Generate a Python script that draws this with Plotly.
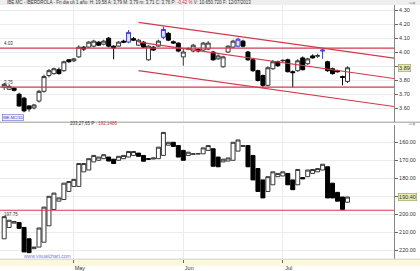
import plotly.graph_objects as go

# ---------------- data ----------------
sessions = list(range(70))

top_open = [3.75, 3.735, 3.742, 3.699, 3.671, 3.615, 3.601, 3.65, 3.72, 3.833,
            3.847, 3.875, 3.868, 3.946, 3.939, 3.967, 4.037, 4.037, 4.044, 4.073,
            4.058, 4.101, 4.044, 4.044, 4.08, 4.073, 4.098, 4.051, 4.073, 3.946,
            4.037, 4.044, 4.108, 4.136, 4.076, 4.066, 3.967, 4.023, 4.009, 4.02,
            4.016, 4.023, 4.002, 3.953, 3.896, 4.002, 4.037, 4.044, 4.08, 4.002,
            3.946, 3.868, 3.833, 3.763, 3.882, 3.932, 3.939, 3.946, 3.861, 3.868,
            3.96, 3.918, 3.974, 3.972, 4.009, 3.932, 3.882, 3.868, 3.826, 3.791]
top_high = [3.78, 3.77, 3.75, 3.71, 3.68, 3.62, 3.63, 3.73, 3.84, 3.88,
            3.89, 3.89, 3.94, 3.95, 3.96, 4.05, 4.045, 4.08, 4.09, 4.08,
            4.09, 4.11, 4.05, 4.08, 4.09, 4.16, 4.11, 4.095, 4.08, 4.05,
            4.045, 4.09, 4.185, 4.145, 4.085, 4.07, 4.023, 4.035, 4.06, 4.03,
            4.075, 4.08, 4.01, 3.985, 3.975, 4.05, 4.09, 4.105, 4.09, 4.01,
            3.955, 3.875, 3.84, 3.9, 3.945, 3.94, 3.95, 3.955, 3.87, 3.95,
            3.97, 3.96, 3.985, 3.99, 4.023, 3.94, 3.89, 3.875, 3.833, 3.9]
top_low = [3.73, 3.73, 3.72, 3.61, 3.57, 3.575, 3.59, 3.64, 3.71, 3.82,
           3.84, 3.84, 3.86, 3.925, 3.93, 3.96, 4.01, 4.03, 4.035, 4.045,
           4.05, 4.035, 3.95, 4.04, 4.065, 4.065, 4.08, 4.045, 4.03, 3.94,
           4.01, 4.04, 4.094, 4.08, 4.06, 4.0, 3.904, 4.015, 4.0, 4.0,
           4.01, 4.015, 3.94, 3.945, 3.89, 3.995, 4.03, 4.035, 4.035, 3.94,
           3.86, 3.79, 3.749, 3.755, 3.875, 3.895, 3.93, 3.855, 3.749, 3.86,
           3.87, 3.91, 3.955, 3.96, 3.953, 3.86, 3.84, 3.855, 3.763, 3.78]
top_close = [3.77, 3.756, 3.727, 3.615, 3.58, 3.594, 3.622, 3.72, 3.826, 3.868,
             3.882, 3.847, 3.932, 3.932, 3.953, 4.037, 4.023, 4.073, 4.08, 4.051,
             4.08, 4.044, 4.03, 4.073, 4.073, 4.143, 4.087, 4.087, 4.037, 4.044,
             4.016, 4.08, 4.164, 4.087, 4.066, 4.009, 4.002, 4.027, 4.051, 4.009,
             4.066, 4.066, 3.946, 3.974, 3.967, 4.044, 4.08, 4.094, 4.044, 3.946,
             3.868, 3.798, 3.763, 3.889, 3.932, 3.904, 3.942, 3.861, 3.854, 3.939,
             3.875, 3.953, 3.96, 3.976, 4.016, 3.868, 3.847, 3.861, 3.819, 3.889]
marked_sessions = [25, 32, 47, 64]

bot_open = [213.6, 207.3, 204.9, 204.6, 207.3, 213.6, 219.1, 218.2, 215.5, 206.4,
            197.3, 192.7, 191.8, 187.3, 184.5, 184.5, 176.4, 175.4, 170.9, 170.0,
            169.1, 168.2, 169.4, 170.0, 169.1, 168.2, 167.3, 166.0, 167.3, 169.1,
            169.3, 169.1, 167.3, 161.6, 160.0, 161.8, 164.5, 167.3, 166.7, 166.5,
            166.4, 164.5, 163.6, 168.2, 170.9, 170.4, 170.0, 164.9, 162.3, 161.8,
            167.3, 174.6, 180.9, 187.3, 183.6, 179.1, 178.7, 177.3, 180.9, 183.6,
            179.6, 179.1, 177.3, 176.4, 175.4, 173.6, 182.7, 187.8, 190.4, 193.3]
bot_close = [201.3, 203.3, 204.0, 207.8, 220.9, 221.3, 218.2, 207.6, 196.0, 190.0,
             188.2, 190.9, 182.7, 181.8, 180.6, 171.8, 171.8, 169.1, 167.3, 168.2,
             166.9, 170.4, 171.8, 167.8, 167.3, 165.1, 165.1, 167.8, 170.5, 169.4,
             168.7, 162.7, 154.5, 160.0, 162.3, 168.2, 170.0, 165.5, 166.4, 166.3,
             163.1, 161.8, 173.3, 173.6, 169.4, 168.7, 160.0, 158.7, 161.8, 173.6,
             180.9, 187.3, 190.9, 179.1, 176.4, 177.3, 176.4, 183.6, 186.3, 175.1,
             180.3, 175.4, 175.1, 174.6, 172.2, 190.9, 190.9, 192.7, 197.3, 190.4]

top_ticks = [3.60, 3.70, 3.80, 3.90, 4.00, 4.10, 4.20, 4.30]
bot_ticks = [160, 170, 180, 190, 200, 210, 220]
month_start = [14, 36, 56]
month_names = ["May", "Jun", "Jul"]

top_levels = [4.03, 3.75]
bot_levels = [197.75]

channel_x = [27, 78.35]
channel_upper = [4.215, 3.958]
channel_mid = [4.073, 3.812]
channel_lower = [3.869, 3.611]

header_text = ("IBE.MC - IBERDROLA - Fri dia ult 1 año: H: 19.58 A: 3,79 M: 3,79 "
               "m: 3,71 C: 3,76 P: <span style='color:#d03040'>-0,42 %</span> V: 10.650.720 F: 12/07/2013")
sub_header = "203,27,65 P · <span style='color:#d03040'>192.1486</span>"

# ---------------- figure ----------------
W, H = 420, 271
RED = "#d23a4c"
GRID = "#ececec"
FONT = "Liberation Sans"


def py(p):
    return 1 - p / H


def tick_labels(vals, hidden):
    # the tick hidden behind the last-value marker is left blank
    return ["" if abs(v - hidden) < 1e-9 else "%.2f" % v for v in vals]


fig = go.Figure()

plain = [i for i in sessions if i not in marked_sessions]
fig.add_trace(go.Candlestick(
    x=plain,
    open=[top_open[i] for i in plain], high=[top_high[i] for i in plain],
    low=[top_low[i] for i in plain], close=[top_close[i] for i in plain],
    increasing=dict(fillcolor="white", line=dict(color="#333333", width=1)),
    decreasing=dict(fillcolor="black", line=dict(color="black", width=1)),
    xaxis="x", yaxis="y", hoverinfo="skip", showlegend=False))
fig.add_trace(go.Candlestick(
    x=marked_sessions,
    open=[top_open[i] for i in marked_sessions], high=[top_high[i] for i in marked_sessions],
    low=[top_low[i] for i in marked_sessions], close=[top_close[i] for i in marked_sessions],
    increasing=dict(fillcolor="#dfe3ff", line=dict(color="#3a3ad0", width=1)),
    decreasing=dict(fillcolor="#3a3ad0", line=dict(color="#3a3ad0", width=1)),
    xaxis="x", yaxis="y", hoverinfo="skip", showlegend=False))

# channel lines
for ch in (channel_upper, channel_mid, channel_lower):
    fig.add_trace(go.Scatter(x=channel_x, y=ch, mode="lines",
                             line=dict(color=RED, width=1.2),
                             xaxis="x", yaxis="y", hoverinfo="skip", showlegend=False))
xr = [-0.84, 78.35]
# horizontal levels
for lv in top_levels:
    fig.add_trace(go.Scatter(x=xr, y=[lv, lv], mode="lines",
                             line=dict(color=RED, width=1.2),
                             xaxis="x", yaxis="y", hoverinfo="skip", showlegend=False))
for lv in bot_levels:
    fig.add_trace(go.Scatter(x=xr, y=[lv, lv], mode="lines",
                             line=dict(color=RED, width=1.2),
                             xaxis="x2", yaxis="y2", hoverinfo="skip", showlegend=False))

bot_high = [max(o, c) for o, c in zip(bot_open, bot_close)]
bot_low = [min(o, c) for o, c in zip(bot_open, bot_close)]
fig.add_trace(go.Candlestick(
    x=sessions, open=bot_open, high=bot_high, low=bot_low, close=bot_close,
    increasing=dict(fillcolor="black", line=dict(color="black", width=1)),
    decreasing=dict(fillcolor="white", line=dict(color="#333333", width=1)),
    xaxis="x2", yaxis="y2", hoverinfo="skip", showlegend=False))

xdom = [0, 394 / W]
tickfont = dict(family=FONT, size=5.5, color="#333")

fig.update_layout(
    width=W, height=H, margin=dict(l=0, r=0, t=0, b=0),
    paper_bgcolor="white", plot_bgcolor="white",
    boxgap=0.2, boxgroupgap=0,
    showlegend=False,
    xaxis=dict(domain=xdom, range=xr, anchor="y", showticklabels=False,
               tickvals=month_start, showgrid=True, gridcolor=GRID, gridwidth=1,
               zeroline=False, showline=False, ticks="", rangeslider=dict(visible=False),
               fixedrange=True),
    xaxis2=dict(domain=xdom, range=xr, anchor="y2", matches="x",
                tickvals=month_start, ticktext=month_names, showgrid=True,
                gridcolor=GRID, gridwidth=1, zeroline=False, showline=False,
                ticks="outside", ticklen=3, tickcolor="#666", tickfont=tickfont,
                ticklabelshift=6, ticklabelstandoff=0,
                rangeslider=dict(visible=False), fixedrange=True),
    yaxis=dict(domain=[py(124), py(5)], range=[3.502, 4.340], side="right",
               tickvals=top_ticks, ticktext=tick_labels(top_ticks, 3.90),
               tickfont=tickfont,
               ticks="outside", ticklen=3, tickcolor="#666",
               showgrid=True, gridcolor=GRID, gridwidth=1, zeroline=False,
               showline=True, linecolor="#888", linewidth=1, fixedrange=True),
    yaxis2=dict(domain=[py(264), py(127)], range=[224.9, 150.2], side="right",
                tickvals=bot_ticks, ticktext=tick_labels(bot_ticks, 190),
                tickfont=tickfont,
                ticks="outside", ticklen=3, tickcolor="#666",
                showgrid=True, gridcolor=GRID, gridwidth=1, zeroline=False,
                showline=True, linecolor="#888", linewidth=1, fixedrange=True),
)

shapes = [
    dict(type="rect", xref="paper", yref="paper", x0=0, x1=1, y0=py(5), y1=1,
         fillcolor="#eeeeee", line=dict(width=0), layer="below"),
    dict(type="line", xref="paper", yref="paper", x0=0, x1=1, y0=py(124.5), y1=py(124.5),
         line=dict(color="#9a9a9a", width=1)),
    dict(type="rect", xref="paper", yref="paper", x0=0, x1=1, y0=0, y1=py(264),
         fillcolor="#fbf8dc", line=dict(width=0), layer="below"),
    dict(type="line", xref="paper", yref="paper", x0=0, x1=1, y0=py(264), y1=py(264),
         line=dict(color="#cfcfcf", width=1)),
]
fig.update_layout(shapes=shapes)

small = dict(family=FONT, size=4.5, color="#333")
ann = [
    dict(text=header_text, x=5 / W, y=py(2.8), xref="paper", yref="paper",
         xanchor="left", yanchor="middle", showarrow=False, font=small),
    dict(text="▫▫×", x=418 / W, y=py(2.8), xref="paper", yref="paper",
         xanchor="right", yanchor="middle", showarrow=False,
         font=dict(family=FONT, size=5, color="#666")),
    dict(text="▫▫×", x=418 / W, y=py(126.5), xref="paper", yref="paper",
         xanchor="right", yanchor="middle", showarrow=False,
         font=dict(family=FONT, size=5, color="#666")),
    dict(text=sub_header, x=68 / W, y=py(126), xref="paper", yref="paper",
         xanchor="left", yanchor="middle", showarrow=False, font=small),
    dict(text="IBE.MC/1D", x=2 / W, y=py(120), xref="paper", yref="paper",
         xanchor="left", yanchor="middle", showarrow=False,
         font=dict(family=FONT, size=4, color="#3a3ad0"),
         bordercolor="#6a6ad0", borderwidth=0.6, borderpad=0.5, bgcolor="#eef0ff"),
    dict(text="www.visualchart.com", x=22 / W, y=py(261), xref="paper", yref="paper",
         xanchor="left", yanchor="middle", showarrow=False,
         font=dict(family=FONT, size=5, color="#7b7bd6")),
    dict(text="%.2f" % top_levels[0], x=2 / W, y=top_levels[0], xref="paper", yref="y",
         xanchor="left", yanchor="bottom", showarrow=False, font=small),
    dict(text="%.2f" % top_levels[1], x=2 / W, y=top_levels[1], xref="paper", yref="y",
         xanchor="left", yanchor="bottom", showarrow=False, font=small),
    dict(text="%.2f" % bot_levels[0], x=2 / W, y=bot_levels[0], xref="paper", yref="y2",
         xanchor="left", yanchor="top", showarrow=False, font=small),
    dict(text="%.2f" % top_close[-1], x=398 / W, y=top_close[-1], xref="paper", yref="y",
         xanchor="left", yanchor="middle", showarrow=False,
         font=dict(family=FONT, size=5.5, color="#333"),
         bgcolor="#e6ebb5", bordercolor="#9aa050", borderwidth=0.6, borderpad=0.5),
    dict(text="%.2f" % bot_close[-1], x=398 / W, y=bot_close[-1], xref="paper", yref="y2",
         xanchor="left", yanchor="middle", showarrow=False,
         font=dict(family=FONT, size=5.5, color="#333"),
         bgcolor="#e6ebb5", bordercolor="#9aa050", borderwidth=0.6, borderpad=0.5),
]
fig.update_layout(annotations=ann)

fig.write_html("out.html", config={"displayModeBar": False, "staticPlot": True})
